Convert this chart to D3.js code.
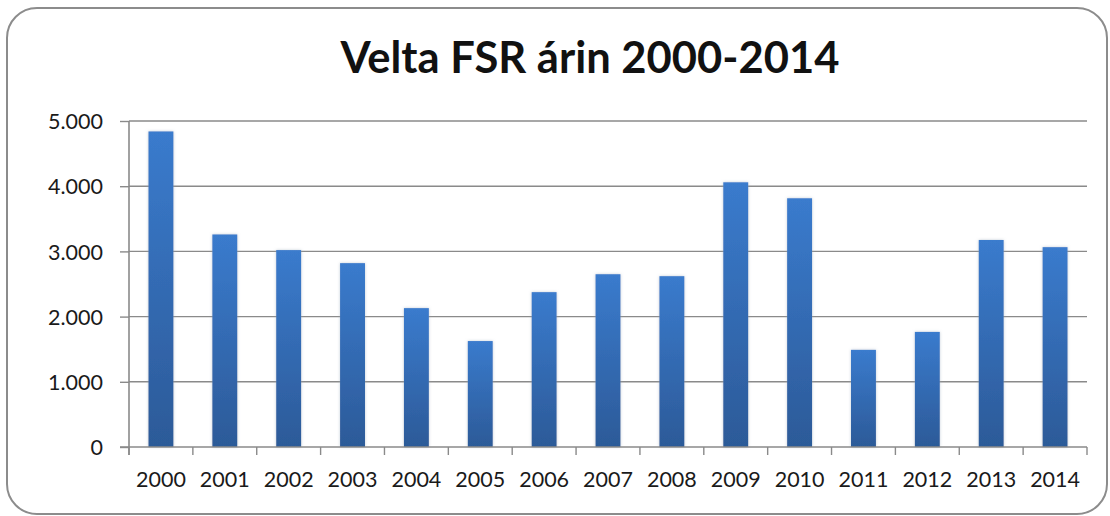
<!DOCTYPE html>
<html>
<head>
<meta charset="utf-8">
<script src="https://cdnjs.cloudflare.com/ajax/libs/d3/7.8.5/d3.min.js"></script>
<style>
	body { margin: 0; background: #fff; }
	svg { display: block; }
	.axis text { font-family: Lato, "Open Sans", sans-serif; font-size: 21.5px; fill: #1a1a1a; }
</style>
</head>
<body>
<div id="chart"></div>
<script>
'use strict';

var years = ['2000', '2001', '2002', '2003', '2004', '2005', '2006', '2007', '2008', '2009', '2010', '2011', '2012', '2013', '2014'];
var velta = [4840, 3260, 3020, 2820, 2130, 1625, 2375, 2650, 2620, 4060, 3815, 1490, 1765, 3175, 3065];
var yTicks = [0, 1000, 2000, 3000, 4000, 5000];
var title = 'Velta FSR árin 2000-2014';

var width = 1110, height = 516;
var margin = { top: 121, right: 23, bottom: 69, left: 129 };

var svg = d3.select('#chart')
	.append('svg')
	.attr('width', width)
	.attr('height', height);

// Frame
svg.append('rect')
	.attr('x', 7).attr('y', 8)
	.attr('width', 1100).attr('height', 506)
	.attr('rx', 30).attr('ry', 30)
	.attr('fill', '#fff')
	.attr('stroke', '#8c8c8c')
	.attr('stroke-width', 2);

// Gradient + glow for bars
var defs = svg.append('defs');
var grad = defs.append('linearGradient')
	.attr('id', 'barGrad')
	.attr('x1', 0).attr('y1', 0).attr('x2', 0).attr('y2', 1);
grad.append('stop').attr('offset', '0%').attr('stop-color', '#3a7bcd');
grad.append('stop').attr('offset', '100%').attr('stop-color', '#2c5a98');

var glow = defs.append('filter').attr('id', 'glow')
	.attr('x', '-30%').attr('y', '-10%').attr('width', '160%').attr('height', '120%');
glow.append('feDropShadow')
	.attr('dx', 0).attr('dy', 0)
	.attr('stdDeviation', 1.5)
	.attr('flood-color', '#9ab')
	.attr('flood-opacity', 0.6);

var plotW = width - margin.left - margin.right;
var plotH = height - margin.top - margin.bottom;

var g = svg.append('g').attr('transform', 'translate(' + margin.left + ',' + margin.top + ')');

// Scales
var x = d3.scaleBand()
	.domain(years)
	.range([0, plotW])
	.paddingInner(0.61)
	.paddingOuter(0.305);

var y = d3.scaleLinear()
	.domain([0, 5000])
	.range([plotH, 0]);

var locale = d3.formatLocale({ decimal: ',', thousands: '.', grouping: [3], currency: ['', ' kr'] });
var fmt = locale.format(',');

// Gridlines
g.append('g')
	.selectAll('line')
	.data(yTicks.filter(function(d) { return d > 0; }))
	.enter()
	.append('line')
	.attr('x1', 0).attr('x2', plotW)
	.attr('y1', function(d) { return y(d); })
	.attr('y2', function(d) { return y(d); })
	.attr('stroke', '#8a8a8a')
	.attr('stroke-width', 1.4);

// Bars
g.append('g')
	.selectAll('rect')
	.data(velta)
	.enter()
	.append('rect')
	.attr('x', function(d, i) { return x(years[i]); })
	.attr('y', function(d) { return y(d); })
	.attr('width', x.bandwidth())
	.attr('height', function(d) { return plotH - y(d); })
	.attr('fill', 'url(#barGrad)')
	.attr('filter', 'url(#glow)');

// Y axis
var yAxis = g.append('g')
	.attr('class', 'axis')
	.call(d3.axisLeft(y).tickValues(yTicks).tickFormat(fmt).tickSize(9).tickPadding(17));
yAxis.select('.domain').remove();
yAxis.selectAll('line').attr('stroke', '#8a8a8a').attr('stroke-width', 1.4);
yAxis.selectAll('text').attr('dy', '0.36em');

g.append('line')
	.attr('x1', 0).attr('x2', 0)
	.attr('y1', 0).attr('y2', plotH + 8)
	.attr('stroke', '#8a8a8a').attr('stroke-width', 1.6);

// X axis
var xAxis = g.append('g')
	.attr('class', 'axis')
	.attr('transform', 'translate(0,' + plotH + ')')
	.call(d3.axisBottom(x).tickSize(0).tickPadding(25));
xAxis.select('.domain').remove();

g.append('line')
	.attr('x1', -9).attr('x2', plotW)
	.attr('y1', plotH).attr('y2', plotH)
	.attr('stroke', '#8a8a8a').attr('stroke-width', 1.4);

// category boundary ticks
var step = x.step();
g.append('g')
	.selectAll('line')
	.data(d3.range(years.length + 1))
	.enter()
	.append('line')
	.attr('x1', function(i) { return i === 0 ? 0 : x(years[i - 1]) + x.bandwidth() / 2 + step / 2; })
	.attr('x2', function(i) { return i === 0 ? 0 : x(years[i - 1]) + x.bandwidth() / 2 + step / 2; })
	.attr('y1', plotH).attr('y2', plotH + 8)
	.attr('stroke', '#8a8a8a').attr('stroke-width', 1.4);

// Title
svg.append('text')
	.attr('x', 590)
	.attr('y', 73)
	.attr('text-anchor', 'middle')
	.style('font-family', 'Lato, "Open Sans", sans-serif')
	.style('font-weight', 'bold')
	.style('font-size', '43.5px')
	.attr('fill', '#111')
	.text(title);
</script>
</body>
</html>
